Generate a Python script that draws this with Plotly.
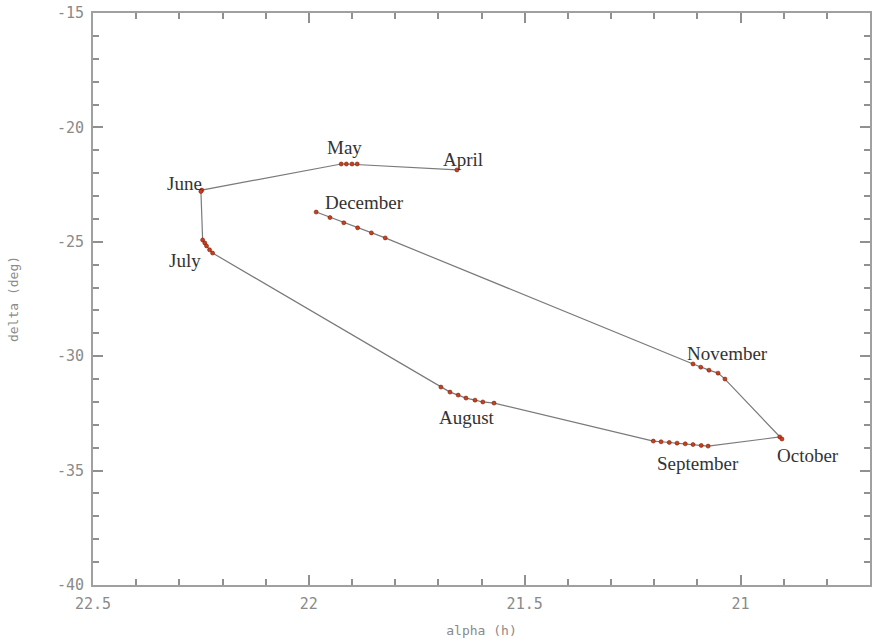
import plotly.graph_objects as go

# Observed positions (alpha in hours, delta in degrees), in time order
april_alpha = [21.657]
april_delta = [-21.86]
may_alpha = [21.888, 21.900, 21.913, 21.925]
may_delta = [-21.60, -21.60, -21.60, -21.60]
june_alpha = [22.248, 22.250]
june_delta = [-22.74, -22.80]
july_alpha = [22.246, 22.241, 22.237, 22.230, 22.223]
july_delta = [-24.92, -25.05, -25.18, -25.35, -25.49]
august_alpha = [21.694, 21.673, 21.654, 21.636, 21.615, 21.597, 21.571]
august_delta = [-31.35, -31.57, -31.70, -31.83, -31.92, -32.00, -32.05]
september_alpha = [21.202, 21.184, 21.165, 21.147, 21.128, 21.110, 21.091, 21.075]
september_delta = [-33.71, -33.74, -33.77, -33.80, -33.83, -33.86, -33.90, -33.93]
october_alpha = [20.909, 20.904]
october_delta = [-33.53, -33.62]
november_alpha = [21.036, 21.052, 21.073, 21.092, 21.110]
november_delta = [-31.00, -30.74, -30.61, -30.48, -30.34]
december_alpha = [21.823, 21.855, 21.887, 21.919, 21.951, 21.983]
december_delta = [-24.83, -24.61, -24.39, -24.17, -23.94, -23.70]

month_names = ["April", "May", "June", "July", "August", "September",
               "October", "November", "December"]
label_alpha = [21.643, 21.918, 22.288, 22.288, 21.634, 21.098, 20.844, 21.029, 21.872]
label_delta = [-21.42, -20.90, -22.47, -25.80, -32.66, -34.67, -34.36, -29.86, -23.30]

x_tickvals = [22.5, 22, 21.5, 21]
x_ticktext = ["22.5", "22", "21.5", "21"]
y_tickvals = [-40, -35, -30, -25, -20, -15]
y_ticktext = ["-40", "-35", "-30", "-25", "-20", "-15"]

alpha_all = (april_alpha + may_alpha + june_alpha + july_alpha + august_alpha +
             september_alpha + october_alpha + november_alpha + december_alpha)
delta_all = (april_delta + may_delta + june_delta + july_delta + august_delta +
             september_delta + october_delta + november_delta + december_delta)

fig = go.Figure()
fig.add_trace(go.Scatter(x=alpha_all, y=delta_all, mode="lines",
                         line=dict(color="#7a7a7a", width=1.2),
                         hoverinfo="skip", showlegend=False))
fig.add_trace(go.Scatter(x=alpha_all, y=delta_all, mode="markers",
                         marker=dict(color="#c8401c", size=4,
                                     line=dict(color="#7a1a08", width=0.6)),
                         showlegend=False))

for name, ax, ay in zip(month_names, label_alpha, label_delta):
    fig.add_annotation(x=ax, y=ay, text=name, showarrow=False,
                       font=dict(family="Liberation Serif", size=19, color="#333333"))

tickfont = dict(family="DejaVu Sans Mono", size=15, color="#8a8a8a")
titlefont = dict(family="DejaVu Sans Mono", size=13, color="#8a8a8a")
axis_common = dict(showgrid=False, zeroline=False, showline=True,
                   linecolor="#a0a0a0", linewidth=2, mirror="ticks",
                   ticks="inside", ticklen=10, tickwidth=1.5, tickcolor="#909090",
                   tickfont=tickfont, ticklabelstandoff=4)

fig.update_layout(
    width=872, height=642,
    margin=dict(l=93, r=0, t=13, b=57),
    paper_bgcolor="white", plot_bgcolor="white",
    xaxis=dict(range=[22.5, 20.7], tickmode="array",
               tickvals=x_tickvals, ticktext=x_ticktext,
               minor=dict(dtick=0.1, tick0=20, ticks="inside", ticklen=6,
                          tickcolor="#909090"),
               title=dict(text="alpha (h)", standoff=14, font=titlefont),
               **axis_common),
    yaxis=dict(range=[-40, -15], tickmode="array",
               tickvals=y_tickvals, ticktext=y_ticktext,
               minor=dict(dtick=1, tick0=-40, ticks="inside", ticklen=6,
                          tickcolor="#909090"),
               title=dict(text="delta (deg)", standoff=35, font=titlefont),
               **axis_common),
)

fig.write_html("out.html")
